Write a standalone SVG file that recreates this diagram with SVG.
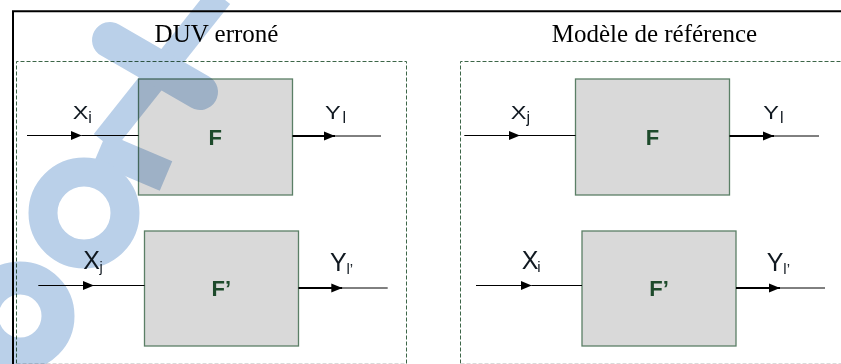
<svg xmlns="http://www.w3.org/2000/svg" width="841" height="364" viewBox="0 0 841 364">
<style>
.title{font-family:"Liberation Serif","Times New Roman",serif;font-size:25px;fill:#000;text-anchor:middle}
.box{fill:#d9d9d9;stroke:#5b7f66;stroke-width:1.3}
.blabel{font-family:"Liberation Sans",Arial,sans-serif;font-size:22px;font-weight:bold;fill:#1d4a2b;text-anchor:middle}
.lab{font-family:"Liberation Sans",Arial,sans-serif;fill:#101820}
.dash{fill:none;stroke:#3d6648;stroke-width:1;stroke-dasharray:4 2}
.conn{fill:none;stroke:#000;stroke-width:1}
.thick{fill:none;stroke:#000;stroke-width:2}
.wm{fill:none;stroke:#bad0e9}
</style>
<defs>
<marker id="ah" markerUnits="userSpaceOnUse" markerWidth="12" markerHeight="10" refX="11" refY="5" orient="auto">
<path d="M0,0.5 L11,5 L0,9.5 Z" fill="#000"/>
</marker>
</defs>
<rect width="841" height="364" fill="#fff"/>
<!-- frame -->
<path d="M13,364 L13,11.2 L841,11.2" fill="none" stroke="#000" stroke-width="2"/>
<!-- dashed containers -->
<g id="duv-container">
<path class="dash" d="M16.5,363.5 L16.5,61.5 L406.5,61.5 L406.5,363.5"/>
<path d="M16.5,363.5 L406.5,363.5" fill="none" stroke="#dadada" stroke-width="1" stroke-dasharray="4 2"/>
<text class="title" x="216.5" y="42">DUV erroné</text>
</g>
<g id="ref-container">
<path class="dash" d="M460.5,363.5 L460.5,61.5 L845,61.5"/>
<path d="M460.5,363.5 L845,363.5" fill="none" stroke="#dadada" stroke-width="1" stroke-dasharray="4 2"/>
<text class="title" x="654.5" y="42">Modèle de référence</text>
</g>
<!-- boxes -->
<g id="duv-F"><rect class="box" x="138.5" y="79" width="154" height="116"/><text class="blabel" x="215.3" y="144.5">F</text></g>
<g id="duv-Fp"><rect class="box" x="144.5" y="231" width="154" height="115"/><text class="blabel" x="221.3" y="295.5">F’</text></g>
<g id="ref-F"><rect class="box" x="575.5" y="79" width="154" height="116"/><text class="blabel" x="652.5" y="144.5">F</text></g>
<g id="ref-Fp"><rect class="box" x="582" y="231" width="154" height="115"/><text class="blabel" x="659" y="295.5">F’</text></g>
<!-- watermark -->
<g id="watermark" style="mix-blend-mode:multiply;isolation:isolate">
<path class="wm" d="M220,-4 L104,142" stroke-width="26"/>
<path class="wm" d="M110,40 L200,92" stroke-width="36" stroke-linecap="round"/>
<path class="wm" d="M100,148 L166,176" stroke-width="32"/>
<circle class="wm" cx="84" cy="213" r="41" stroke-width="29"/>
<circle class="wm" cx="20" cy="316" r="38" stroke-width="33"/>
</g>
<!-- connectors -->
<g id="connectors">
<path class="conn" d="M27,135.5 L81.7,135.5" marker-end="url(#ah)"/><path class="conn" d="M81.7,135.5 L138.5,135.5"/>
<path class="thick" d="M292.5,136 L335,136" marker-end="url(#ah)"/><path class="conn" d="M335,136 L381,136"/>
<path class="conn" d="M38.3,285.5 L94,285.5" marker-end="url(#ah)"/><path class="conn" d="M94,285.5 L144.5,285.5"/>
<path class="thick" d="M298.5,288 L342.3,288" marker-end="url(#ah)"/><path class="conn" d="M342.3,288 L387.7,288"/>
<path class="conn" d="M464.3,135.5 L520,135.5" marker-end="url(#ah)"/><path class="conn" d="M520,135.5 L575.5,135.5"/>
<path class="thick" d="M729.5,136 L774,136" marker-end="url(#ah)"/><path class="conn" d="M774,136 L819,136"/>
<path class="conn" d="M476,285.5 L531.7,285.5" marker-end="url(#ah)"/><path class="conn" d="M531.7,285.5 L582,285.5"/>
<path class="thick" d="M736,288 L780,288" marker-end="url(#ah)"/><path class="conn" d="M780,288 L825,288"/>
</g>
<!-- labels -->
<g id="labels">
<text class="lab" style="font-size:23.5px" transform="translate(72.7,119.3) scale(1,0.8)">X</text><text class="lab" style="font-size:16px" x="88.3" y="123.3">i</text>
<text class="lab" style="font-size:23.5px" transform="translate(325,119.3) scale(1,0.8)">Y</text><text class="lab" style="font-size:16px" x="342.5" y="123.3">l</text>
<text class="lab" style="font-size:25px" x="83.3" y="269">X</text><text class="lab" style="font-size:14.5px" x="99.5" y="272">j</text>
<text class="lab" style="font-size:25px" x="330" y="271.3">Y</text><text class="lab" style="font-size:15px" x="346.5" y="273.7">l’</text>
<text class="lab" style="font-size:23.5px" transform="translate(510.7,119.3) scale(1,0.8)">X</text><text class="lab" style="font-size:16px" x="526.5" y="123.3">j</text>
<text class="lab" style="font-size:23.5px" transform="translate(763.3,119.3) scale(1,0.8)">Y</text><text class="lab" style="font-size:16px" x="780" y="123.3">l</text>
<text class="lab" style="font-size:25px" x="521.7" y="269">X</text><text class="lab" style="font-size:15px" x="537.3" y="272">i</text>
<text class="lab" style="font-size:25px" x="766.7" y="271.3">Y</text><text class="lab" style="font-size:15px" x="783.3" y="273.7">l’</text>
</g>
</svg>
